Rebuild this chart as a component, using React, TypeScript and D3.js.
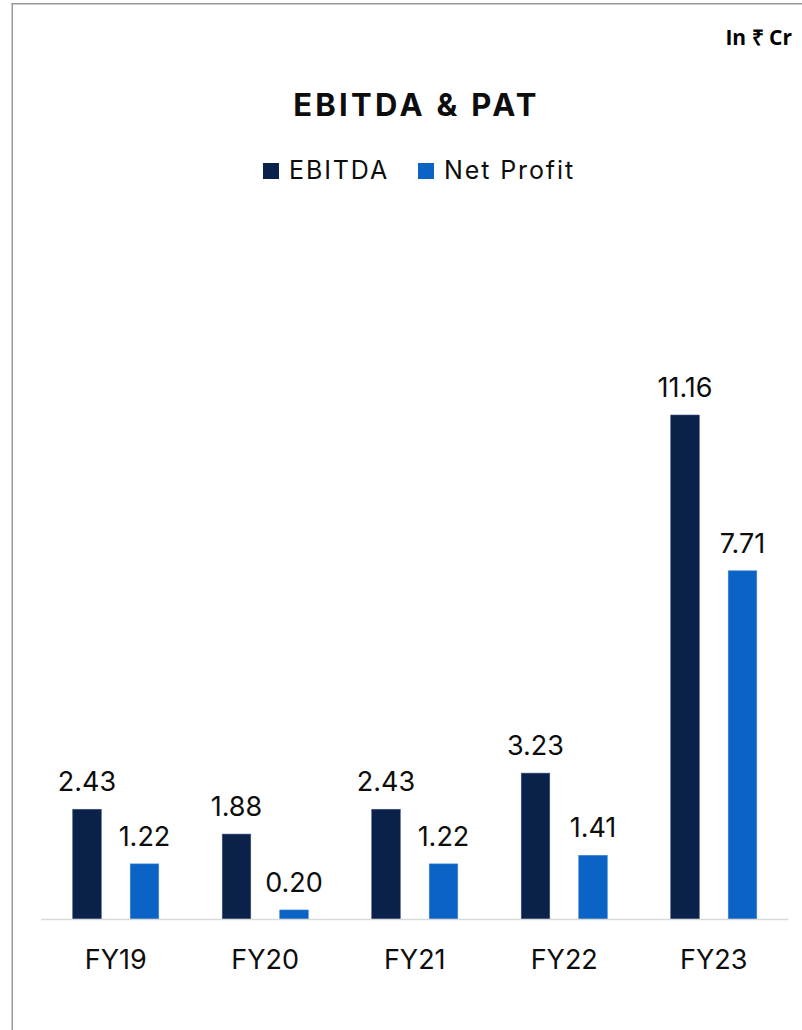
import React from "react";
import * as d3 from "d3";

const categories = ["FY19", "FY20", "FY21", "FY22", "FY23"];
const seriesNames = ["EBITDA", "Net Profit"];
const ebitda = [2.43, 1.88, 2.43, 3.23, 11.16];
const netProfit = [1.22, 0.2, 1.22, 1.41, 7.71];
const seriesColors = ["#0a2149", "#0b63c5"];

const W = 802;
const H = 1030;
const FONT = "Inter, 'Noto Sans', sans-serif";

export default function App() {
  const x = d3.scaleBand<string>().domain(categories).range([41, 788.5]).padding(0);
  const xi = d3
    .scaleBand<string>()
    .domain(seriesNames)
    .range([0, x.bandwidth()])
    .paddingInner(0.504)
    .paddingOuter(0.552);
  const y = d3.scaleLinear().domain([0, 12]).range([919, 919 - 12 * 45.16]);
  const values = [ebitda, netProfit];
  const fmt = d3.format(".2f");

  return (
    <svg
      width={W}
      height={H}
      style={{ position: "absolute", left: 0, top: 0, background: "#fff" }}
    >
      <rect x={0} y={0} width={W} height={H} fill="#fff" />
      {/* frame */}
      <line x1={12.25} y1={3} x2={12.25} y2={H} stroke="#9a9a9a" strokeWidth={1.5} />
      <line x1={11.5} y1={3.75} x2={W} y2={3.75} stroke="#9a9a9a" strokeWidth={1.5} />

      <text
        x={792}
        y={45}
        textAnchor="end"
        fontFamily="'Open Sans', sans-serif"
        fontWeight={700}
        fontSize={21}
        fill="#000"
      >
        In ₹ Cr
      </text>

      <text
        x={416.5}
        y={116}
        textAnchor="middle"
        fontFamily={FONT}
        fontWeight={700}
        fontSize={31}
        letterSpacing={3.3}
        fill="#0d0d0d"
      >
        EBITDA &amp; PAT
      </text>

      {/* legend */}
      <g fontFamily={FONT} fontSize={25} fill="#0d0d0d" letterSpacing={1.9}>
        <rect x={263} y={163} width={16} height={16} fill={seriesColors[0]} />
        <text x={289} y={179}>{seriesNames[0]}</text>
        <rect x={418} y={163} width={16} height={16} fill={seriesColors[1]} />
        <text x={444} y={179}>{seriesNames[1]}</text>
      </g>

      {/* bars */}
      {categories.map((c, i) => (
        <g key={c} transform={`translate(${x(c)},0)`}>
          {seriesNames.map((s, j) => {
            const v = values[j][i];
            const bx = xi(s)!;
            const bw = xi.bandwidth();
            return (
              <g key={s}>
                <rect
                  x={bx}
                  y={y(v)}
                  width={bw}
                  height={y(0) - y(v)}
                  fill={seriesColors[j]}
                  stroke={j === 0 ? "#3b5276" : "#3d82d2"}
                  strokeWidth={0.6}
                />
                <text
                  x={bx + bw / 2}
                  y={y(v) - 18}
                  textAnchor="middle"
                  fontFamily={FONT}
                  fontSize={27}
                  fill="#0d0d0d"
                >
                  {fmt(v)}
                </text>
              </g>
            );
          })}
        </g>
      ))}

      {/* axis */}
      <line x1={41} x2={788.5} y1={y(0) + 0.5} y2={y(0) + 0.5} stroke="#d9d9d9" strokeWidth={1.5} />
      {categories.map((c) => (
        <text
          key={c}
          x={x(c)! + x.bandwidth() / 2}
          y={969}
          textAnchor="middle"
          fontFamily={FONT}
          fontSize={27}
          fill="#0d0d0d"
        >
          {c}
        </text>
      ))}
    </svg>
  );
}
